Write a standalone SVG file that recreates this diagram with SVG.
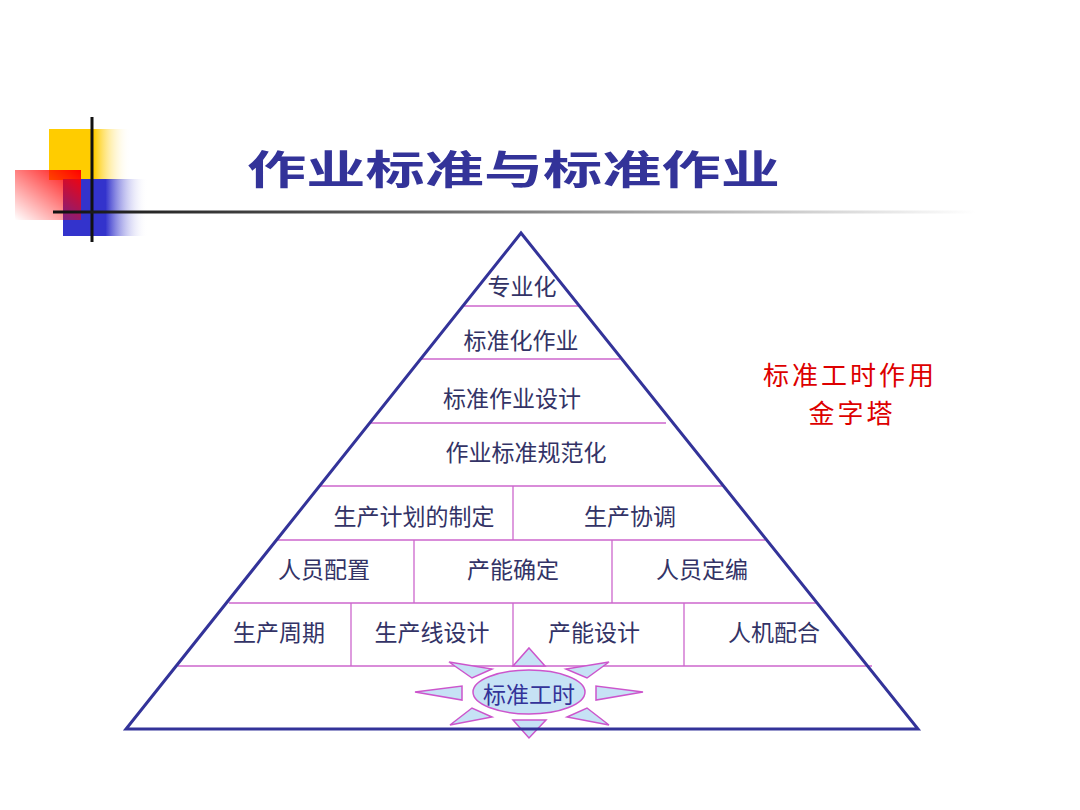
<svg xmlns="http://www.w3.org/2000/svg" width="1080" height="810" viewBox="0 0 1080 810">
<defs>
<linearGradient id="gY" x1="0" y1="0" x2="1" y2="0"><stop offset="0" stop-color="#FFCC00"/><stop offset="0.55" stop-color="#FFCC00"/><stop offset="1" stop-color="#FFFFFF" stop-opacity="0"/></linearGradient>
<linearGradient id="gB" x1="0" y1="0" x2="1" y2="0"><stop offset="0" stop-color="#3333CC"/><stop offset="0.5" stop-color="#3333CC"/><stop offset="1" stop-color="#FFFFFF" stop-opacity="0"/></linearGradient>
<linearGradient id="gR" x1="1" y1="0" x2="0" y2="1"><stop offset="0" stop-color="#FF0000"/><stop offset="1" stop-color="#FF0000" stop-opacity="0"/></linearGradient>
<linearGradient id="gL" gradientUnits="userSpaceOnUse" x1="53" y1="0" x2="975" y2="0"><stop offset="0" stop-color="#111111"/><stop offset="0.4" stop-color="#666666"/><stop offset="1" stop-color="#FFFFFF"/></linearGradient>
<style>
.t{font-family:"Noto Sans CJK SC","Noto Sans",sans-serif;font-size:23px;fill:#333366;text-anchor:middle}
.sep{stroke:#CC66CC;stroke-width:1.3;fill:none}
.ray{fill:#C6E2F5;stroke:#CC55CC;stroke-width:1.5}
.red{font-family:"Noto Sans CJK SC",sans-serif;font-size:26px;letter-spacing:3px;fill:#DD0000;text-anchor:middle}
</style>
</defs>
<rect width="1080" height="810" fill="#FFFFFF"/>
<g id="decor">
<rect x="49" y="129" width="82" height="51" fill="url(#gY)"/>
<rect x="63" y="179" width="85" height="57" fill="url(#gB)"/>
<rect x="15" y="170" width="66" height="50" fill="url(#gR)"/>
<line x1="92" y1="117" x2="92" y2="242" stroke="#111111" stroke-width="3"/>
<line x1="53" y1="212" x2="975" y2="212" stroke="url(#gL)" stroke-width="3"/>
</g>
<g id="title">
<text x="247" y="184" textLength="533" lengthAdjust="spacingAndGlyphs" style="font-family:'Noto Sans CJK SC',sans-serif;font-size:40px;font-weight:bold;fill:#333399">作业标准与标准作业</text>
</g>
<g id="connectors">
<line class="sep" x1="462" y1="306" x2="578" y2="306"/>
<line class="sep" x1="421" y1="359" x2="620" y2="359"/>
<line class="sep" x1="371" y1="423" x2="666" y2="423"/>
<line class="sep" x1="320" y1="486" x2="722" y2="486"/>
<line class="sep" x1="277" y1="540" x2="765" y2="540"/>
<line class="sep" x1="229" y1="603" x2="816" y2="603"/>
<line class="sep" x1="178" y1="666" x2="872" y2="666"/>
<line class="sep" x1="513" y1="486" x2="513" y2="540"/>
<line class="sep" x1="414" y1="540" x2="414" y2="603"/>
<line class="sep" x1="612" y1="540" x2="612" y2="603"/>
<line class="sep" x1="351" y1="603" x2="351" y2="666"/>
<line class="sep" x1="513" y1="603" x2="513" y2="666"/>
<line class="sep" x1="684" y1="603" x2="684" y2="666"/>
</g>
<g id="n-zhuanyehua"><text class="t" x="522" y="295">专业化</text></g>
<g id="n-biaozhunhuazuoye"><text class="t" x="521" y="349">标准化作业</text></g>
<g id="n-biaozhunzuoyesheji"><text class="t" x="512" y="407">标准作业设计</text></g>
<g id="n-zuoyebiaozhunguifanhua"><text class="t" x="526" y="461">作业标准规范化</text></g>
<g id="n-jihua"><text class="t" x="414" y="525">生产计划的制定</text></g>
<g id="n-xietiao"><text class="t" x="630" y="525">生产协调</text></g>
<g id="n-renyuanpeizhi"><text class="t" x="324" y="578">人员配置</text></g>
<g id="n-channengqueding"><text class="t" x="513" y="578">产能确定</text></g>
<g id="n-renyuandingbian"><text class="t" x="702" y="578">人员定编</text></g>
<g id="n-shengchanzhouqi"><text class="t" x="279" y="641">生产周期</text></g>
<g id="n-shengchanxiansheji"><text class="t" x="432" y="641">生产线设计</text></g>
<g id="n-channengsheji"><text class="t" x="594" y="641">产能设计</text></g>
<g id="n-renjipeihe"><text class="t" x="774" y="641">人机配合</text></g>
<g id="n-biaozhungongshi">
<polygon class="ray" points="529,648 545,666 513,666"/>
<polygon class="ray" points="513,720 546,720 529,738"/>
<polygon class="ray" points="415,692 462,686 462,700"/>
<polygon class="ray" points="643,692 596,686 596,700"/>
<polygon class="ray" points="449,662 492,669 472,678"/>
<polygon class="ray" points="609,662 566,669 587,678"/>
<polygon class="ray" points="450,725 472,708 492,717"/>
<polygon class="ray" points="609,725 587,708 567,717"/>
<ellipse cx="529" cy="692" rx="56" ry="22" fill="#C6E2F5" stroke="#CC55CC" stroke-width="1.5"/>
<text class="t" x="529" y="703" style="fill:#333399">标准工时</text>
</g>
<g id="pyramid">
<polygon points="521,233 126,729 918,729" fill="none" stroke="#333399" stroke-width="3" stroke-linejoin="miter"/>
</g>
<g id="n-label">
<text class="red" x="850" y="385">标准工时作用</text>
<text class="red" x="852" y="423">金字塔</text>
</g>
</svg>
